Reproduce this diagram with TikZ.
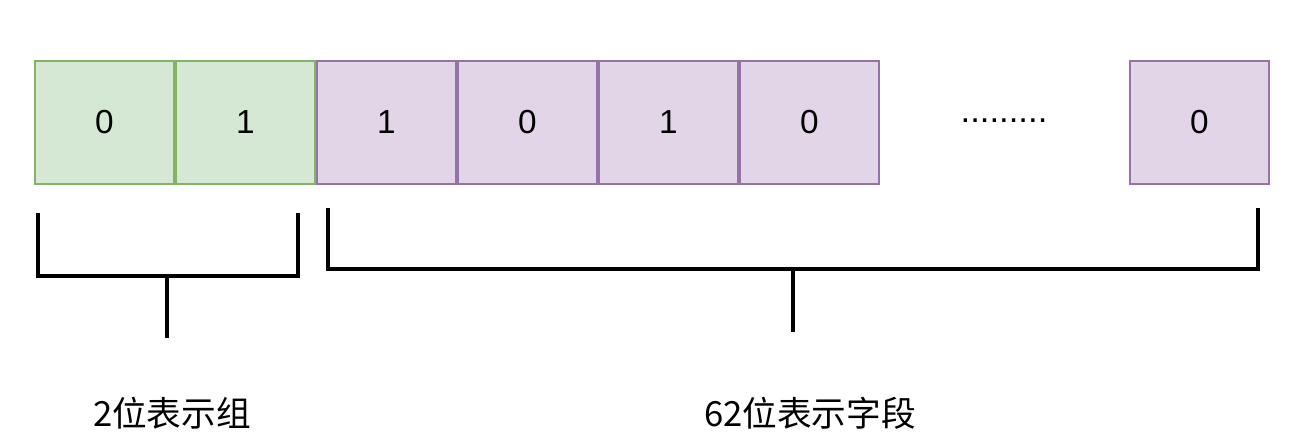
\documentclass[tikz,border=0pt]{standalone}
\usepackage{fontspec}
\setmainfont{Liberation Sans}
\newfontfamily\cjk{Noto Sans CJK SC}
\usetikzlibrary{positioning}
\definecolor{greenfill}{HTML}{D5E8D4}
\definecolor{greenline}{HTML}{82B366}
\definecolor{purplefill}{HTML}{E1D5E7}
\definecolor{purpleline}{HTML}{9673A6}
\tikzset{
  bit/.style={draw=#1line,fill=#1fill,line width=1.5pt,minimum width=104.25pt,minimum height=92.25pt,inner sep=0pt,font=\fontsize{25}{30}\selectfont},
  brace/.style={line width=3.6pt,draw=black},
  caption/.style={font=\cjk\fontsize{26}{30}\selectfont,inner sep=0pt}
}

\begin{document}
\begin{tikzpicture}[x=0.75pt,y=-0.75pt]
    \useasboundingbox (0,0) rectangle (1306,448);

    % group bits
    \node[bit=green,anchor=north west] (g0) at (34,60) {0};
    \node[bit=green,right=0pt of g0] (g1) {1};

    % field bits
    \node[bit=purple,right=0pt of g1] (f0) {1};
    \node[bit=purple,right=0pt of f0] (f1) {0};
    \node[bit=purple,right=0pt of f1] (f2) {1};
    \node[bit=purple,right=0pt of f2] (f3) {0};
    \node[bit=purple,anchor=north west] (fn) at (1129,60) {0};
    \node[font=\fontsize{26}{30}\selectfont] (dots) at (1004,121) {.........};

    % brackets
    \coordinate (gl) at (38,213);
    \coordinate (gr) at (298,213);
    \coordinate (gs) at (167,338);
    \draw[brace] (gl) -- (38,276) -- (298,276) -- (gr);
    \draw[brace] (167,276) -- (gs);

    \coordinate (fl) at (328,208);
    \coordinate (fr) at (1258,208);
    \coordinate (fs) at (793,332);
    \draw[brace] (fl) -- (328,269) -- (1258,269) -- (fr);
    \draw[brace] (793,269) -- (fs);

    \node[caption] (glabel) at (172,413) {2位表示组};
    \node[caption] (flabel) at (810,413) {62位表示字段};
  \end{tikzpicture}
\end{document}
